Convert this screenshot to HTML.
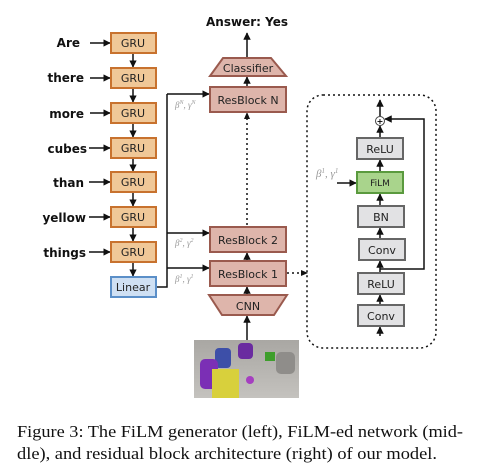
<!DOCTYPE html>
<html><head><meta charset="utf-8"><style>
html,body{margin:0;padding:0;background:#fff;}
svg{display:block;}
.w{font-family:"DejaVu Sans","Liberation Sans",sans-serif;font-weight:bold;font-size:12px;fill:#111;}
.b{font-family:"DejaVu Sans","Liberation Sans",sans-serif;font-size:11px;fill:#222;}
.g{font-family:"Liberation Serif",serif;font-style:italic;font-size:9px;fill:#999;}
</style></head><body>
<svg width="482" height="475" viewBox="0 0 482 475" xmlns="http://www.w3.org/2000/svg">
<defs>
<marker id="a" viewBox="0 0 10 10" refX="9" refY="5" markerWidth="5" markerHeight="5" orient="auto"><path d="M0,0L10,5L0,10z" fill="#111"/></marker>
<linearGradient id="bg" x1="0" y1="0" x2="0" y2="1"><stop offset="0" stop-color="#a9a7a3"/><stop offset="1" stop-color="#c4c2be"/></linearGradient>
</defs>
<g stroke="#111" stroke-width="1.5" fill="none" marker-end="url(#a)">
<line x1="90" y1="43" x2="110" y2="43"/><line x1="90" y1="78" x2="110" y2="78"/>
<line x1="90" y1="113" x2="110" y2="113"/><line x1="89" y1="148" x2="110" y2="148"/>
<line x1="89" y1="182" x2="110" y2="182"/><line x1="89" y1="217" x2="110" y2="217"/>
<line x1="89" y1="252" x2="110" y2="252"/>
<line x1="133" y1="54" x2="133" y2="67"/><line x1="133" y1="89" x2="133" y2="102"/>
<line x1="133" y1="124" x2="133" y2="137"/><line x1="133" y1="159" x2="133" y2="171"/>
<line x1="133" y1="193" x2="133" y2="206"/><line x1="133" y1="228" x2="133" y2="241"/>
<line x1="133" y1="263" x2="133" y2="276"/>
<line x1="167" y1="94" x2="209" y2="94"/><line x1="167" y1="233" x2="209" y2="233"/><line x1="167" y1="268" x2="209" y2="268"/>
<line x1="247" y1="57" x2="247" y2="33"/><line x1="247" y1="86" x2="247" y2="77"/>
<line x1="247" y1="260" x2="247" y2="253"/><line x1="247" y1="294" x2="247" y2="287"/>
<line x1="247" y1="340" x2="247" y2="316"/>
<line x1="380" y1="116" x2="380" y2="100"/><line x1="380" y1="138" x2="380" y2="126"/>
<line x1="380" y1="172" x2="380" y2="160"/><line x1="380" y1="206" x2="380" y2="194"/>
<line x1="380" y1="239" x2="380" y2="228"/><line x1="380" y1="273" x2="380" y2="261"/>
<line x1="380" y1="305" x2="380" y2="295"/><line x1="380" y1="336" x2="380" y2="327"/>
<line x1="337" y1="183" x2="356" y2="183"/>
<polyline points="380,269 424,269 424,119 385,119"/>
</g>
<polyline points="157,287 167,287 167,94" stroke="#111" stroke-width="1.5" fill="none"/>
<line x1="247" y1="225" x2="247" y2="118" stroke="#111" stroke-width="1.5" stroke-dasharray="2,3"/>
<polygon points="247,112 244,119 250,119" fill="#111"/>
<line x1="287" y1="273" x2="302" y2="273" stroke="#111" stroke-width="1.5" stroke-dasharray="2,3"/>
<polygon points="308,273 301,270 301,276" fill="#111"/>
<rect x="307" y="95" width="129" height="253" rx="16" fill="none" stroke="#111" stroke-width="1.5" stroke-dasharray="2,3"/>
<g class="w" text-anchor="end">
<text x="80" y="47">Are</text><text x="84" y="82">there</text><text x="84" y="118">more</text>
<text x="87" y="153">cubes</text><text x="84" y="187">than</text><text x="86" y="222">yellow</text>
<text x="86" y="257">things</text>
</g>
<text class="w" x="247" y="26" text-anchor="middle">Answer: Yes</text>
<g fill="#f0c898" stroke="#c8722e" stroke-width="2">
<rect x="111" y="33" width="45" height="20"/><rect x="111" y="68" width="45" height="20"/>
<rect x="111" y="103" width="45" height="20"/><rect x="111" y="138" width="45" height="20"/>
<rect x="111" y="172" width="45" height="20"/><rect x="111" y="207" width="45" height="20"/>
<rect x="111" y="242" width="45" height="20"/>
</g>
<rect x="111" y="277" width="45" height="20" fill="#cfe0f3" stroke="#5b8fc8" stroke-width="2"/>
<g class="b" text-anchor="middle">
<text x="133" y="47">GRU</text><text x="133" y="82">GRU</text><text x="133" y="117">GRU</text>
<text x="133" y="152">GRU</text><text x="133" y="186">GRU</text><text x="133" y="221">GRU</text>
<text x="133" y="256">GRU</text><text x="133" y="291">Linear</text>
</g>
<g fill="#deb5ab" stroke="#9a5a4e" stroke-width="2">
<polygon points="223,58 271,58 286,76 210,76"/>
<rect x="210" y="87" width="76" height="25"/>
<rect x="210" y="227" width="76" height="25"/>
<rect x="210" y="261" width="76" height="25"/>
<polygon points="209,295 287,295 274,315 222,315"/>
</g>
<g class="b" text-anchor="middle">
<text x="248" y="72">Classifier</text><text x="248" y="104">ResBlock N</text>
<text x="248" y="244">ResBlock 2</text><text x="248" y="278">ResBlock 1</text>
<text x="248" y="310">CNN</text>
</g>
<g class="g">
<text x="175" y="108">β<tspan font-size="6" dy="-4">N</tspan><tspan dy="4">, γ</tspan><tspan font-size="6" dy="-4">N</tspan></text>
<text x="175" y="246">β<tspan font-size="6" dy="-4">2</tspan><tspan dy="4">, γ</tspan><tspan font-size="6" dy="-4">2</tspan></text>
<text x="175" y="282">β<tspan font-size="6" dy="-4">1</tspan><tspan dy="4">, γ</tspan><tspan font-size="6" dy="-4">1</tspan></text>
<text x="316" y="177" font-size="11">β<tspan font-size="7" dy="-4">1</tspan><tspan dy="4">, γ</tspan><tspan font-size="7" dy="-4">1</tspan></text>
</g>
<circle cx="380" cy="121" r="4.5" fill="#fff" stroke="#444" stroke-width="1"/>
<text x="380" y="124" text-anchor="middle" font-size="8" font-family="DejaVu Sans" font-weight="bold">+</text>
<g fill="#e2e2e4" stroke="#666" stroke-width="2">
<rect x="357" y="138" width="46" height="21"/><rect x="358" y="206" width="46" height="21"/>
<rect x="359" y="239" width="46" height="21"/><rect x="358" y="273" width="46" height="21"/>
<rect x="358" y="305" width="46" height="21"/>
</g>
<rect x="357" y="172" width="46" height="21" fill="#a9d48c" stroke="#5a9a3e" stroke-width="2"/>
<g class="b" text-anchor="middle">
<text x="380" y="153">ReLU</text><text x="380" y="186" font-size="9">FiLM</text>
<text x="381" y="221">BN</text><text x="382" y="254">Conv</text>
<text x="381" y="288">ReLU</text><text x="381" y="320">Conv</text>
</g>
<rect x="194" y="340" width="105" height="58" fill="url(#bg)"/>
<rect x="215" y="348" width="16" height="20" rx="4" fill="#3d4fa8"/>
<rect x="238" y="343" width="15" height="16" rx="4" fill="#6a2ba0"/>
<rect x="200" y="359" width="18" height="30" rx="5" fill="#7b2fb5"/>
<rect x="212" y="369" width="27" height="29" fill="#d8d03c"/>
<circle cx="250" cy="380" r="4" fill="#a53fc0"/>
<rect x="265" y="352" width="10" height="9" fill="#3e9e2c"/>
<rect x="276" y="352" width="19" height="22" rx="5" fill="#8f8d8a"/>
<g font-family="Liberation Serif,serif" font-size="17" fill="#111">
<text x="17" y="437" textLength="446" lengthAdjust="spacingAndGlyphs">Figure 3: The FiLM generator (left), FiLM-ed network (mid-</text>
<text x="17" y="459" textLength="420" lengthAdjust="spacingAndGlyphs">dle), and residual block architecture (right) of our model.</text>
</g>
</svg>
</body></html>
